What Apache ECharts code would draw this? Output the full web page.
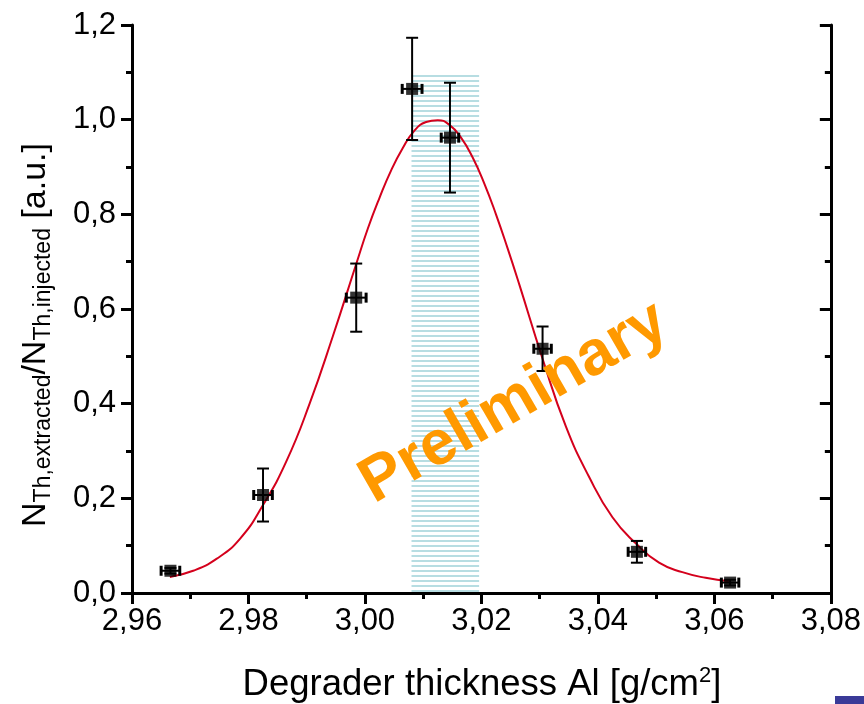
<!DOCTYPE html>
<html>
<head>
<meta charset="utf-8">
<script src="https://cdn.jsdelivr.net/npm/echarts@6/dist/echarts.min.js"></script>
<style>
html,body{margin:0;padding:0;background:#fff;}
#chart{width:864px;height:704px;}
</style>
</head>
<body>
<div id="chart"></div>
<script>
// ---- data ----
const xVals = [2.9666, 2.9825, 2.9985, 3.0081, 3.0146, 3.0305, 3.0467, 3.0627];
const yVals = [0.047, 0.207, 0.624, 1.065, 0.962, 0.516, 0.087, 0.022];
const yErr  = [0.006, 0.056, 0.072, 0.108, 0.116, 0.047, 0.023, 0.006];
const xErr  = [0.0016, 0.0016, 0.0017, 0.0017, 0.0015, 0.0015, 0.0015, 0.0015];

const fitX = [2.9665, 2.9705, 2.9745, 2.9785, 2.9825, 2.9865, 2.9905, 2.9945, 2.9985, 3.0005, 3.0025, 3.0045, 3.0065, 3.0085, 3.0105, 3.0125, 3.0145, 3.0165, 3.0185, 3.0205, 3.0225, 3.0245, 3.0265, 3.0305, 3.0345, 3.0385, 3.0425, 3.0465, 3.0505, 3.0545, 3.0585, 3.0625];
const fitY = [0.034, 0.047, 0.072, 0.114, 0.186, 0.278, 0.400, 0.543, 0.695, 0.770, 0.835, 0.893, 0.940, 0.977, 0.995, 0.999, 0.989, 0.962, 0.920, 0.865, 0.800, 0.728, 0.652, 0.495, 0.352, 0.245, 0.160, 0.105, 0.064, 0.044, 0.032, 0.025];

const bandX = [3.008, 3.0196];
const bandY = [0, 1.1];

const xMin = 2.96, xMax = 3.08, xStep = 0.02;
const yMin = 0, yMax = 1.2, yStep = 0.2;

const watermark = 'Preliminary';
const xTitle = 'Degrader thickness Al [g/cm';
const xTitleSup = '2';
const yTitleParts = [['N', 'b'], ['Th,extracted', 's'], ['/N', 'b'], ['Th,injected', 's'], [' [a.u.]', 'b']];

// ---- chart ----
const FONT = '"Liberation Sans", Arial, sans-serif';
const chart = echarts.init(document.getElementById('chart'), null, {renderer: 'canvas'});

// striped fill for the band
const pat = document.createElement('canvas');
pat.width = 4; pat.height = 5;
const pctx = pat.getContext('2d');
pctx.fillStyle = '#b7dde2';
pctx.fillRect(0, 0, 4, 2);

const pts = xVals.map((x, i) => [x, yVals[i]]);
const errData = xVals.map((x, i) => [x, yVals[i], xErr[i], yErr[i]]);
const fitData = fitX.map((x, i) => [x, fitY[i]]);

function commaFmt(d) { return v => v.toFixed(d).replace('.', ','); }

// y title laid out with measured widths
const mctx = document.createElement('canvas').getContext('2d');
const sizes = {b: 34, s: 23};
const drops = {b: 0, s: 7.5};
const widths = yTitleParts.map(p => { mctx.font = sizes[p[1]] + 'px ' + FONT; return mctx.measureText(p[0]).width; });
const totalW = widths.reduce((a, b) => a + b, 0);
let cur = -totalW / 2;
const yTitleChildren = yTitleParts.map((p, i) => {
  const el = {
    type: 'text', x: cur, y: drops[p[1]],
    style: {text: p[0], fontSize: sizes[p[1]], fontFamily: FONT, fill: '#000', align: 'left', verticalAlign: 'middle'}
  };
  cur += widths[i];
  return el;
});

const axisLine = {show: true, lineStyle: {color: '#000', width: 3}};
function xAxisCfg(pos, inside, showLabel) {
  return {
    type: 'value', position: pos, min: xMin, max: xMax, interval: xStep,
    axisLine: axisLine,
    axisTick: {show: true, inside: inside, length: 11, lineStyle: {color: '#000', width: 3}},
    minorTick: {show: true, splitNumber: 2, length: 6, lineStyle: {color: '#000', width: 3}},
    axisLabel: {show: showLabel, fontSize: 31, fontFamily: FONT, color: '#000', margin: 13, formatter: commaFmt(2)},
    splitLine: {show: false}, minorSplitLine: {show: false}
  };
}
function yAxisCfg(pos, inside, showLabel) {
  return {
    type: 'value', position: pos, min: yMin, max: yMax, interval: yStep,
    axisLine: axisLine,
    axisTick: {show: true, inside: inside, length: 11, lineStyle: {color: '#000', width: 3}},
    minorTick: {show: true, splitNumber: 2, length: 6, lineStyle: {color: '#000', width: 3}},
    axisLabel: {show: showLabel, fontSize: 31, fontFamily: FONT, color: '#000', margin: 16, formatter: commaFmt(1)},
    splitLine: {show: false}, minorSplitLine: {show: false}
  };
}

const option = {
  backgroundColor: '#fff',
  animation: false,
  grid: {left: 132, right: 33, top: 25, bottom: 111, containLabel: false},
  xAxis: [xAxisCfg('bottom', false, true), xAxisCfg('top', true, false)],
  yAxis: [yAxisCfg('left', false, true), yAxisCfg('right', true, false)],
  series: [
    {
      type: 'custom', name: 'band', z: 1, silent: true,
      data: [[bandX[0], bandX[1], bandY[0], bandY[1]]],
      renderItem: function (params, api) {
        const p0 = api.coord([api.value(0), api.value(3)]);
        const p1 = api.coord([api.value(1), api.value(2)]);
        return {
          type: 'rect',
          shape: {x: p0[0], y: p0[1], width: p1[0] - p0[0], height: p1[1] - p0[1]},
          style: {fill: {image: pat, repeat: 'repeat'}, stroke: null}
        };
      }
    },
    {
      type: 'line', name: 'fit', z: 3, data: fitData, smooth: 0.5,
      showSymbol: false, symbol: 'none',
      lineStyle: {color: '#d4001c', width: 2}
    },
    {
      type: 'custom', name: 'errors', z: 4, data: errData,
      renderItem: function (params, api) {
        const x = api.value(0), y = api.value(1), ex = api.value(2), ey = api.value(3);
        const t = api.coord([x, y + ey]), b = api.coord([x, y - ey]);
        const l = api.coord([x - ex, y]), r = api.coord([x + ex, y]);
        const cw = 6, ch = 5;
        const ls = {stroke: '#000', lineWidth: 2};
        return {
          type: 'group',
          children: [
            {type: 'line', shape: {x1: t[0], y1: t[1], x2: b[0], y2: b[1]}, style: ls},
            {type: 'line', shape: {x1: t[0] - cw, y1: t[1], x2: t[0] + cw, y2: t[1]}, style: ls},
            {type: 'line', shape: {x1: b[0] - cw, y1: b[1], x2: b[0] + cw, y2: b[1]}, style: ls},
            {type: 'line', shape: {x1: l[0], y1: l[1], x2: r[0], y2: r[1]}, style: ls},
            {type: 'line', shape: {x1: l[0], y1: l[1] - ch, x2: l[0], y2: l[1] + ch}, style: {stroke: '#000', lineWidth: 3}},
            {type: 'line', shape: {x1: r[0], y1: r[1] - ch, x2: r[0], y2: r[1] + ch}, style: {stroke: '#000', lineWidth: 3}}
          ]
        };
      }
    },
    {
      type: 'scatter', name: 'data', z: 5, data: pts,
      symbol: 'rect', symbolSize: 12,
      itemStyle: {color: '#000'}
    }
  ],
  graphic: [
    {
      type: 'text', z: 10, x: 514, y: 403, rotation: 30 * Math.PI / 180,
      style: {text: watermark, fontSize: 63, fontWeight: 'bold', fontFamily: FONT, fill: '#ff9900', align: 'center', verticalAlign: 'middle'}
    },
    {
      type: 'text', z: 10, x: 482, y: 685,
      style: {
        text: '{n|' + xTitle + '}{s|' + xTitleSup + '}{n|]}',
        align: 'center', verticalAlign: 'middle',
        rich: {
          n: {fontSize: 36.5, fontFamily: FONT, fill: '#000', color: '#000', lineHeight: 40, verticalAlign: 'middle'},
          s: {fontSize: 22, fontFamily: FONT, fill: '#000', color: '#000', lineHeight: 22, verticalAlign: 'top'}
        }
      }
    },
    {
      type: 'group', z: 10, x: 36, y: 335, rotation: Math.PI / 2,
      children: yTitleChildren
    },
    {
      type: 'rect', z: 10, shape: {x: 835, y: 696, width: 29, height: 8},
      style: {fill: '#3a3a98'}
    }
  ]
};
chart.setOption(option);
</script>
</body>
</html>
